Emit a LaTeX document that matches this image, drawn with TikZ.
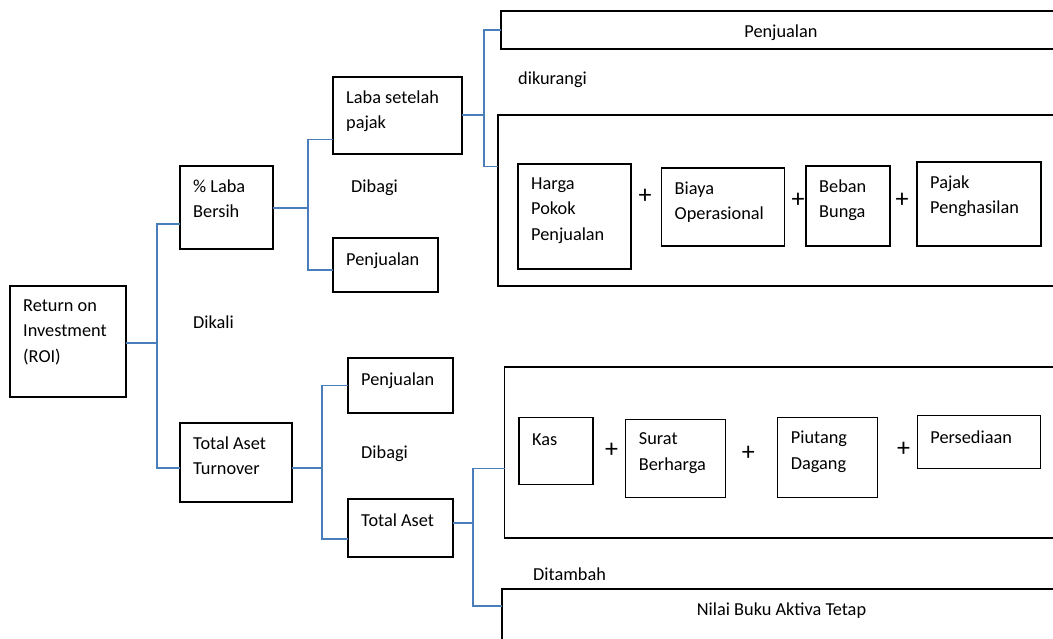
\documentclass[tikz,border=0pt]{standalone}
\usepackage{fontspec}
\setmainfont{Carlito}
\definecolor{connblue}{RGB}{74,126,187}
\begin{document}
\begin{tikzpicture}[x=1pt,y=-1pt,
  box/.style={draw=black, line width=1.3pt, anchor=north west, outer sep=0pt, inner sep=0pt},
  txt/.style={anchor=north west, align=left, inner sep=0pt, xshift=13pt, yshift=-13.5pt,
    font=\fontsize{18.3}{25.3}\selectfont, execute at begin node={\rule{0pt}{14pt}}},
  ctxt/.style={anchor=north, align=center, inner sep=0pt, yshift=-12.5pt,
    font=\fontsize{18.3}{25.3}\selectfont, execute at begin node={\rule{0pt}{14pt}}},
  conn/.style={draw=connblue, line width=1.3pt},
  plain/.style={anchor=base west, inner sep=0pt, font=\fontsize{18.3}{25.3}\selectfont},
  plus/.style={inner sep=0pt, font=\fontsize{26}{30}\selectfont}
]
\useasboundingbox (0,0) rectangle (1053,639);
\clip (0,0) rectangle (1053,639);
\fill[white] (0,0) rectangle (1053,639);

% left part
\node[box, minimum width=116, minimum height=111, label={[txt]north west:{Return on\\Investment\\(ROI)}}] (roi) at (10,286) {};
\node[box, minimum width=93, minimum height=83, label={[txt]north west:{\% Laba\\Bersih}}] (lb) at (180,166) {};
\node[box, minimum width=112, minimum height=79, label={[txt]north west:{Total Aset\\Turnover}}] (tat) at (180,423) {};
\node[box, minimum width=129, minimum height=77, label={[txt]north west:{Laba setelah\\pajak}}] (lsp) at (333,77) {};
\node[box, minimum width=105, minimum height=54, label={[txt]north west:{Penjualan}}] (pj1) at (333,238) {};
\node[box, minimum width=105, minimum height=55, label={[txt]north west:{Penjualan}}] (pj2) at (348,358) {};
\node[box, minimum width=105, minimum height=58, label={[txt]north west:{Total Aset}}] (ta) at (348,499) {};

% upper right
\node[box, minimum width=560, minimum height=38, label={[ctxt]north:{Penjualan}}] (ptop) at (501,11) {};
\node[box, minimum width=563, minimum height=171] (big1) at (498,115) {};
\node[box, minimum width=113, minimum height=105, label={[txt]north west:{Harga\\Pokok\\Penjualan}}] (hpp) at (518,164) {};
\node[box, minimum width=123, minimum height=78, label={[txt]north west:{Biaya\\Operasional}}] (bo) at (661.5,168) {};
\node[box, minimum width=84, minimum height=80, label={[txt]north west:{Beban\\Bunga}}] (bb) at (806,166) {};
\node[box, minimum width=124, minimum height=84, label={[txt]north west:{Pajak\\Penghasilan}}] (pp) at (917,162) {};
\node[plus] (pl1) at (645,196) {+};
\node[plus] (pl2) at (798,200) {+};
\node[plus] (pl3) at (902,200) {+};

% lower right
\node[box, minimum width=557, minimum height=171] (big2) at (504.5,367) {};
\node[box, minimum width=74, minimum height=67, label={[txt]north west:{Kas}}] (kas) at (519,417.5) {};
\node[box, minimum width=100, minimum height=78, label={[txt]north west:{Surat\\Berharga}}] (sb) at (625.7,419.3) {};
\node[box, minimum width=100, minimum height=80, label={[txt]north west:{Piutang\\Dagang}}] (pd) at (777.7,417.5) {};
\node[box, minimum width=123, minimum height=53, label={[txt]north west:{Persediaan}}] (ps) at (917.2,415.7) {};
\node[plus] (pl4) at (611.5,450) {+};
\node[plus] (pl5) at (748.4,453) {+};
\node[plus] (pl6) at (903.7,449.3) {+};
\node[box, minimum width=559, minimum height=70, label={[ctxt]north:{Nilai Buku Aktiva Tetap}}] (nbat) at (502,589) {};

% free labels
\node[plain] (dikali) at (193,328) {Dikali};
\node[plain] (dibagi1) at (351,193) {Dibagi};
\node[plain] (dikurangi) at (518,85) {dikurangi};
\node[plain] (dibagi2) at (361,458) {Dibagi};
\node[plain] (ditambah) at (533,580) {Ditambah};

% connectors
\path ([yshift=-1.5pt]roi.east) ++(31,0) coordinate (j1);
\draw[conn] ([yshift=-1.5pt]roi.east) -- (j1);
\draw[conn] ([yshift=-16.5pt]lb.west) -| (j1) |- ([yshift=-5.5pt]tat.west);

\path ([yshift=-0.5pt]lb.east) ++(35,0) coordinate (j2);
\draw[conn] ([yshift=-0.5pt]lb.east) -- (j2);
\draw[conn] ([yshift=-24pt]lsp.west) -| (j2) |- ([yshift=-5pt]pj1.west);

\path ([yshift=0.5pt]lsp.east) ++(22,0) coordinate (j3);
\draw[conn] ([yshift=0.5pt]lsp.east) -- (j3);
\draw[conn] (ptop.west) -| (j3) |- ([yshift=34pt]big1.west);

\path ([yshift=-5.5pt]tat.east) ++(30,0) coordinate (j4);
\draw[conn] ([yshift=-5.5pt]tat.east) -- (j4);
\draw[conn] (pj2.west) -| (j4) |- ([yshift=-11pt]ta.west);

\path ([yshift=5pt]ta.east) ++(20,0) coordinate (j5);
\draw[conn] ([yshift=5pt]ta.east) -- (j5);
\draw[conn] ([yshift=-16pt]big2.west) -| (j5) |- ([yshift=18pt]nbat.west);
\end{tikzpicture}
\end{document}
